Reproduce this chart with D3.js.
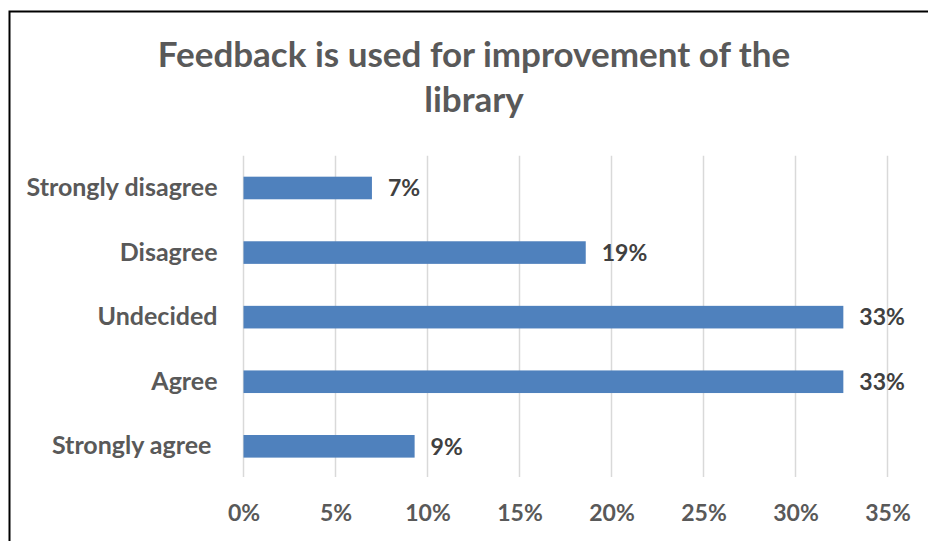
<!DOCTYPE html>
<html>
<head>
<meta charset="utf-8">
<script src="https://cdn.jsdelivr.net/npm/d3@7"></script>
<style>
  html, body { margin: 0; padding: 0; background: #fff; }
  svg { display: block; }
  text { font-weight: 700; white-space: pre; }
</style>
</head>
<body>
<svg id="chart" width="928" height="541"></svg>
<script>
// Survey responses, top row first
const categories = ["Strongly disagree", "Disagree", "Undecided", "Agree", "Strongly agree "];
const shares = [0.0698, 0.186, 0.326, 0.326, 0.093];
const tickValues = [0, 0.05, 0.10, 0.15, 0.20, 0.25, 0.30, 0.35];
const titleLines = ["Feedback is used for improvement of the", "library"];

const svg = d3.select("#chart");
const W = 928, H = 541;
const lato = "Lato, sans-serif";

// Chart frame
svg.append("rect")
  .attr("x", 9.5).attr("y", 11.5)
  .attr("width", W).attr("height", H)
  .attr("fill", "#fff")
  .attr("stroke", "#000").attr("stroke-width", 2);

const plot = { left: 243.5, right: 887.5, top: 155.7, bottom: 478.6 };

const x = d3.scaleLinear().domain([0, 0.35]).range([plot.left, plot.right]);
const y = d3.scaleBand().domain(categories)
  .range([plot.top, plot.bottom])
  .paddingInner(0.65).paddingOuter(0.325);

// Title
svg.append("g").selectAll("text").data(titleLines).join("text")
  .attr("x", 474)
  .attr("y", (d, i) => 67 + i * 45)
  .attr("text-anchor", "middle")
  .attr("fill", "#595959")
  .style("font-family", lato)
  .style("font-size", "35px")
  .text(d => d);

// Vertical gridlines
svg.append("g").selectAll("line").data(tickValues).join("line")
  .attr("x1", d => x(d)).attr("x2", d => x(d))
  .attr("y1", plot.top).attr("y2", plot.bottom - 1.5)
  .attr("stroke", "#d9d9d9").attr("stroke-width", 1.5);

// Bottom axis labels
const xAxis = d3.axisBottom(x).tickValues(tickValues).tickFormat(d3.format(".0%")).tickSize(0).tickPadding(0);
const gx = svg.append("g").attr("transform", `translate(0, ${plot.bottom + 26})`).call(xAxis);
gx.select(".domain").remove();
gx.selectAll("text")
  .attr("fill", "#595959")
  .style("font-family", lato)
  .style("font-size", "23px")
  .style("font-weight", 700);

// Category axis labels
const yAxis = d3.axisLeft(y).tickSize(0).tickPadding(0);
const gy = svg.append("g").attr("transform", `translate(${plot.left - 26}, 0)`).call(yAxis);
gy.select(".domain").remove();
gy.selectAll("text")
  .attr("fill", "#595959")
  .style("font-family", lato)
  .style("font-size", "25px")
  .style("font-weight", 700)
  .style("white-space", "pre");

// Bars
const rows = categories.map((c, i) => ({ c, v: shares[i] }));
svg.append("g").selectAll("rect").data(rows).join("rect")
  .attr("x", x(0))
  .attr("y", d => y(d.c))
  .attr("width", d => x(d.v) - x(0))
  .attr("height", y.bandwidth())
  .attr("fill", "#4f81bd");

// Value labels
svg.append("g").selectAll("text").data(rows).join("text")
  .attr("x", d => x(d.v) + 16)
  .attr("y", d => y(d.c) + y.bandwidth() / 2)
  .attr("dy", "0.36em")
  .attr("fill", "#404040")
  .style("font-family", lato)
  .style("font-size", "23px")
  .text(d => d3.format(".0%")(d.v));
</script>
</body>
</html>
